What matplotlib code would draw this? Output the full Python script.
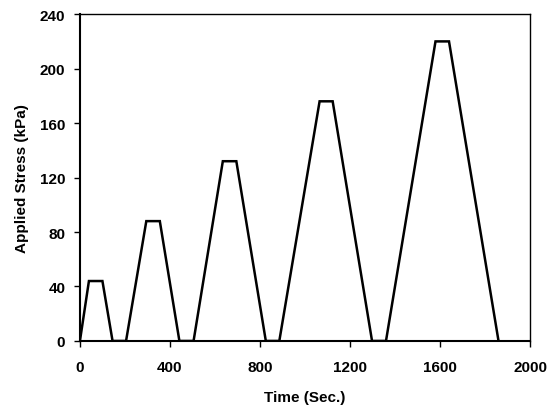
import matplotlib
matplotlib.use("Agg")
import matplotlib.pyplot as plt

time_s = [0, 40, 100, 145, 205, 295, 355, 442, 505, 635, 695, 826, 886, 1065, 1123, 1298, 1360, 1580, 1640, 1860]
stress_kpa = [0, 44, 44, 0, 0, 88, 88, 0, 0, 132, 132, 0, 0, 176, 176, 0, 0, 220, 220, 0]
xticks = [0, 400, 800, 1200, 1600, 2000]
yticks = [0, 40, 80, 120, 160, 200, 240]

plt.rcParams['font.family'] = ['Liberation Sans', 'DejaVu Sans']
fig = plt.figure(figsize=(5.55, 4.10), dpi=100)
ax = fig.add_axes([0.144, 0.166, 0.811, 0.797])
ax.plot(time_s, stress_kpa, color='black', lw=1.8, solid_joinstyle='miter')
ax.set_xlim(0, 2000)
ax.set_ylim(0, 240)
ax.set_xticks(xticks)
ax.set_yticks(yticks)
ax.tick_params(direction='out', length=4.5, width=1, labelsize=11)
ax.tick_params(axis='x', pad=9.5)
ax.tick_params(axis='y', pad=6)
for lab in ax.get_xticklabels() + ax.get_yticklabels():
    lab.set_fontweight('bold')
for s in ax.spines.values():
    s.set_linewidth(1)
ax.spines['bottom'].set_linewidth(1.5)
ax.spines['left'].set_linewidth(1.5)
ax.set_xlabel('Time (Sec.)', fontsize=11, fontweight='bold', labelpad=11)
ax.set_ylabel('Applied Stress (kPa)', fontsize=11, fontweight='bold', labelpad=8)
fig.savefig('out.png', dpi=100)
